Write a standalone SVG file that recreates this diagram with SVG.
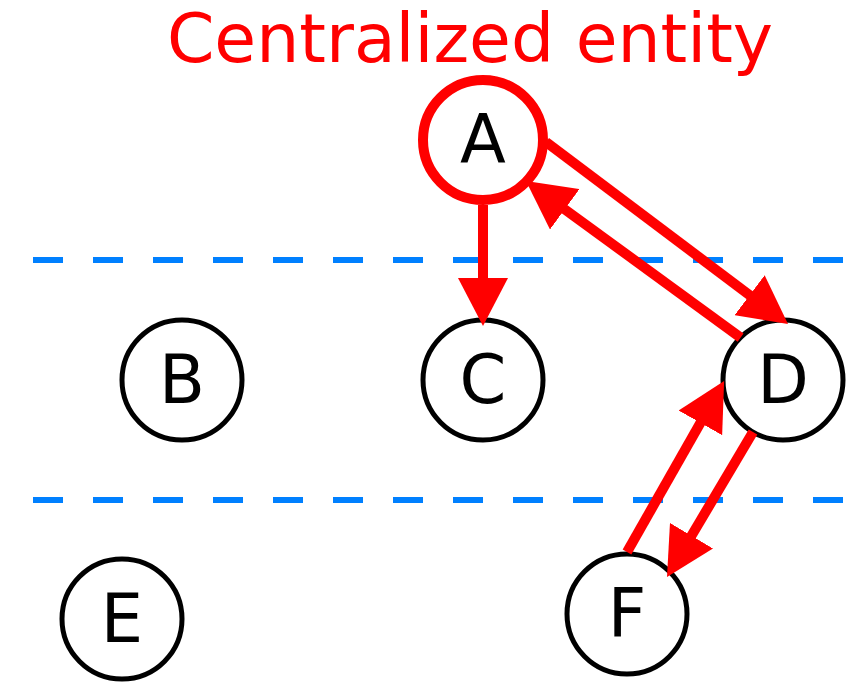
<svg xmlns="http://www.w3.org/2000/svg" width="846" height="683" viewBox="0 0 846 683">
<style>
.lbl{font-family:"DejaVu Sans",sans-serif;font-size:67px;text-anchor:middle;fill:#000}
.node{fill:#fff;stroke:#000;stroke-width:5}
.cent{fill:#fff;stroke:#ff0000;stroke-width:10}
.sep{stroke:#0080ff;stroke-width:6;stroke-dasharray:30 30;fill:none}
.edge{stroke:#ff0000;stroke-width:10;fill:none}
</style>
<defs>
<marker id="ah" markerUnits="userSpaceOnUse" markerWidth="48" markerHeight="50" viewBox="0 0 48 50" refX="18" refY="25" orient="auto">
<path d="M0,0 L48,25 L0,50 z" fill="#ff0000"/>
</marker>
</defs>
<rect width="846" height="683" fill="#fff"/>
<g id="separators">
<line class="sep" x1="33" y1="260" x2="846" y2="260"/>
<line class="sep" x1="33" y1="500" x2="846" y2="500"/>
</g>
<text id="title" x="470" y="62" font-family="DejaVu Sans, sans-serif" font-size="68" fill="#ff0000" text-anchor="middle">Centralized entity</text>
<g id="node-A"><circle class="cent" cx="483" cy="140" r="60"/><text class="lbl" x="483" y="163">A</text></g>
<g id="node-B"><circle class="node" cx="182" cy="380" r="60"/><text class="lbl" x="182" y="403">B</text></g>
<g id="node-C"><circle class="node" cx="483" cy="380" r="60"/><text class="lbl" x="483" y="403">C</text></g>
<g id="node-D"><circle class="node" cx="783" cy="380" r="60"/><text class="lbl" x="783" y="403">D</text></g>
<g id="node-E"><circle class="node" cx="122" cy="619" r="60"/><text class="lbl" x="122" y="642">E</text></g>
<g id="node-F"><circle class="node" cx="627" cy="614" r="60"/><text class="lbl" x="627" y="637">F</text></g>
<g id="connectors">
<line class="edge" x1="483" y1="205" x2="483" y2="296" marker-end="url(#ah)"/>
<line class="edge" x1="546" y1="142" x2="764" y2="306" marker-end="url(#ah)"/>
<line class="edge" x1="740.6" y1="337.6" x2="550.2" y2="198.7" marker-end="url(#ah)"/>
<line class="edge" x1="627" y1="552" x2="709.3" y2="407.2" marker-end="url(#ah)"/>
<line class="edge" x1="753" y1="432" x2="682.3" y2="551.2" marker-end="url(#ah)"/>
</g>
</svg>
